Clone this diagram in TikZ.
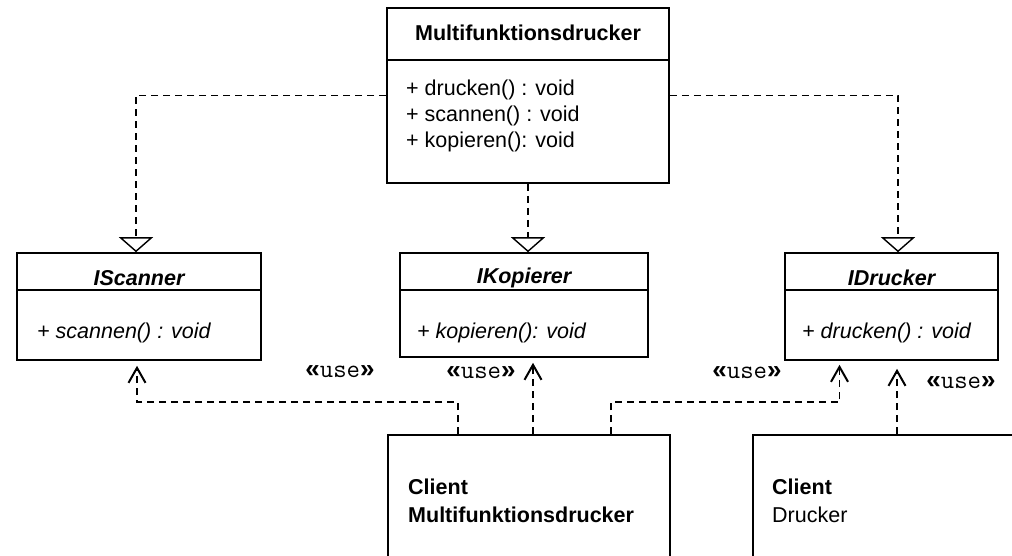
\documentclass[tikz,border=0pt]{standalone}
\usepackage{fontspec}
\setmainfont{Liberation Sans}
\usetikzlibrary{arrows.meta,calc}

\newcommand{\stereo}[1]{{\rmfamily\bfseries\fontsize{26}{28}\selectfont «}#1{\rmfamily\bfseries\fontsize{26}{28}\selectfont »}}

\tikzset{
  umlbox/.style={draw=black, line width=1.6pt, rectangle, inner sep=0pt, fill=white},
  realize/.style={draw=black, line width=1.4pt, dash pattern=on 7pt off 5pt,
    -{Triangle[open, width=34pt, length=15pt, line width=1.4pt, fill=white]}},
  dep/.style={draw=black, line width=1.5pt, dash pattern=on 7pt off 5pt,
    -{Straight Barb[length=15pt, width=17pt, line width=2pt]}},
  divider/.style={draw=black, line width=1.4pt},
  txt/.style={font=\fontsize{21.5}{26}\selectfont, inner sep=0pt},
  stereolabel/.style={font=\ttfamily\fontsize{26}{28}\selectfont, inner sep=0pt}
}

\begin{document}
\begin{tikzpicture}[x=1pt, y=-1pt]
\useasboundingbox (0,0) rectangle (1012,555);
\clip (0,0) rectangle (1012,555);

% class Multifunktionsdrucker
\node[umlbox, minimum width=282pt, minimum height=175pt] (mfd) at (528,95.5) {};
\draw[divider] (mfd.west |- 0,60) -- (mfd.east |- 0,60);
\node[txt, font=\fontsize{21.5}{26}\selectfont\bfseries] (mfdtitle) at (528,33) {Multifunktionsdrucker};
\node[txt, align=left, anchor=west] (mfdops) at (406,116)
  {+ drucken() : void\\+ scannen() : void\\+ kopieren(): void};

% interfaces
\node[umlbox, minimum width=244pt, minimum height=107pt] (iscanner) at (139,306.5) {};
\draw[divider] (iscanner.west |- 0,290) -- (iscanner.east |- 0,290);
\node[txt, font=\fontsize{21.5}{26}\selectfont\bfseries\itshape] (iscannertitle) at (139,278) {IScanner};
\node[txt, font=\fontsize{21.5}{26}\selectfont\itshape, anchor=west] (iscannerop) at (37,333) {+ scannen() : void};

\node[umlbox, minimum width=248pt, minimum height=104pt] (ikopierer) at (524,305) {};
\draw[divider] (ikopierer.west |- 0,290) -- (ikopierer.east |- 0,290);
\node[txt, font=\fontsize{21.5}{26}\selectfont\bfseries\itshape] (ikopierertitle) at (524,278) {IKopierer};
\node[txt, font=\fontsize{21.5}{26}\selectfont\itshape, anchor=west] (ikopiererop) at (417,333) {+ kopieren(): void};

\node[umlbox, minimum width=213pt, minimum height=107pt] (idrucker) at (891.5,306.5) {};
\draw[divider] (idrucker.west |- 0,290) -- (idrucker.east |- 0,290);
\node[txt, font=\fontsize{21.5}{26}\selectfont\bfseries\itshape] (idruckertitle) at (891.5,278) {IDrucker};
\node[txt, font=\fontsize{21.5}{26}\selectfont\itshape, anchor=west] (idruckerop) at (802,333) {+ drucken() : void};

% clients (running past the lower and right edges)
\node[umlbox, minimum width=282pt, minimum height=200pt, anchor=north] (cmfd) at (529,434) {};
\node[txt, font=\fontsize{21.5}{28}\selectfont\bfseries, align=left, anchor=west] (cmfdtext) at (408,501)
  {Client\\Multifunktionsdrucker};
\node[umlbox, minimum width=320pt, minimum height=200pt, anchor=north west] (cdr) at (752,434) {};
\node[txt, font=\fontsize{21.5}{28}\selectfont, align=left, anchor=west] (cdrtext) at (772,501)
  {\textbf{Client}\\Drucker};

% realization connectors
\draw[realize] (mfd.west) -| ([xshift=-3pt]iscanner.north);
\draw[realize] (mfd.south) -- (mfd.south |- ikopierer.north);
\draw[realize] (mfd.east) -| ([xshift=6.5pt]idrucker.north);

% usage connectors
\coordinate (p1) at ([xshift=-71pt]cmfd.north);
\coordinate (p2) at ([xshift=4pt]cmfd.north);
\coordinate (p3) at ([xshift=82pt]cmfd.north);
\coordinate (p4) at ([xshift=145pt]cdr.north west);

\draw[dep] (p1) -- ++(0,-32) -| ([xshift=-2pt,yshift=-5pt]iscanner.south);
\draw[dep] (p2) -- ([yshift=-5pt]p2 |- ikopierer.south);
\draw[dep] (p3) -- ++(0,-32) -| ([xshift=-52pt,yshift=-4pt]idrucker.south);
\draw[dep] (p4) -- ([yshift=-8pt]p4 |- idrucker.south);

% stereotypes
\node[stereolabel] (use1) at (340,372) {\stereo{use}};
\node[stereolabel] (use2) at (481,373) {\stereo{use}};
\node[stereolabel] (use3) at (747,373) {\stereo{use}};
\node[stereolabel] (use4) at (961,383) {\stereo{use}};
\end{tikzpicture}
\end{document}
